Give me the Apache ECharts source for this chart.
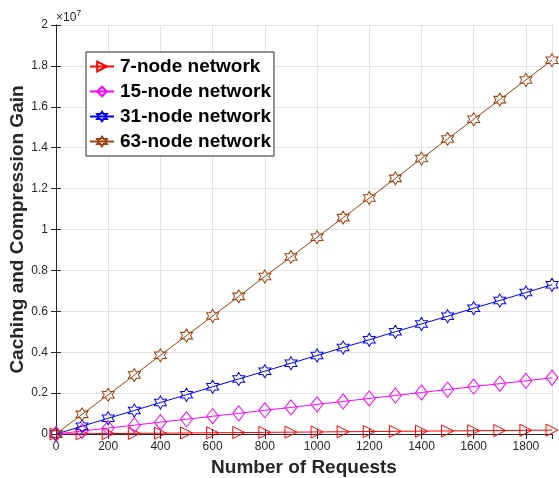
<!DOCTYPE html>
<html><head><meta charset="utf-8">
<script src="https://cdn.jsdelivr.net/npm/echarts@6/dist/echarts.min.js"></script>
<style>html,body{margin:0;padding:0;background:#fff}#c{width:559px;height:478px}</style>
</head><body><div id="c"></div>
<script>
// Number of requests
const requests = [0,100,200,300,400,500,600,700,800,900,1000,1100,1200,1300,1400,1500,1600,1700,1800,1900];
// Caching and compression gain, in units of 1e7
const gain7  = [0,0.001,0.002,0.003,0.004,0.005,0.006,0.007,0.008,0.009,0.010,0.011,0.012,0.013,0.014,0.015,0.016,0.017,0.018,0.019];
const gain15 = [0,0.0145,0.029,0.043,0.058,0.072,0.087,0.101,0.116,0.130,0.145,0.159,0.174,0.188,0.203,0.217,0.232,0.246,0.260,0.275];
const gain31 = [0,0.038,0.077,0.115,0.154,0.192,0.231,0.269,0.307,0.346,0.384,0.423,0.461,0.500,0.538,0.576,0.615,0.653,0.692,0.730];
const gain63 = [0,0.096,0.192,0.288,0.385,0.481,0.577,0.673,0.770,0.866,0.962,1.058,1.154,1.250,1.347,1.443,1.539,1.635,1.731,1.828];
const seriesNames = ['7-node network','15-node network','31-node network','63-node network'];
const yTickLabels = ['0','0.2','0.4','0.6','0.8','1','1.2','1.4','1.6','1.8','2'];

const FONT = '"Liberation Sans", Arial, sans-serif';
const AX = '#262626';
const tri = 'path://M0,0 L10,5 L0,10 Z';
const star = 'path://M0,-100 L28.87,-50 L86.6,-50 L57.7,0 L86.6,50 L28.87,50 L0,100 L-28.87,50 L-86.6,50 L-57.7,0 L-86.6,-50 L-28.87,-50 Z';
const cfg = [
  {data: gain7,  color: '#ff0000', symbol: tri, size: [12,12]},
  {data: gain15, color: '#ff00ff', symbol: 'diamond', size: [12,15]},
  {data: gain31, color: '#0000ff', symbol: star, size: [12,13]},
  {data: gain63, color: '#a0410d', symbol: star, size: [12,13]}
];
const chart = echarts.init(document.getElementById('c'), null, {renderer: 'canvas'});
const series = cfg.map((c, i) => ({
  name: seriesNames[i], type: 'line',
  data: requests.map((x, j) => [x, c.data[j]]),
  symbol: c.symbol, symbolSize: c.size,
  showAllSymbol: true,
  lineStyle: {color: c.color, width: 1},
  itemStyle: {color: 'rgba(255,255,255,0)', borderColor: c.color, borderWidth: 1},
  emphasis: {disabled: true},
  animation: false,
  z: 3 + i
}));
chart.setOption({
  animation: false,
  grid: {left: 56, right: 7, top: 25, bottom: 44, containLabel: false, outerBoundsMode: 'none'},
  legend: {
    left: 86, top: 52, orient: 'vertical',
    itemWidth: 24, itemHeight: 12, itemGap: 6,
    padding: [5, 3, 5, 3],
    borderColor: AX, borderWidth: 1, backgroundColor: '#fff',
    textStyle: {fontFamily: FONT, fontSize: 19, fontWeight: 'bold', color: '#000', padding: [0,0,0,1]},
    data: seriesNames
  },
  xAxis: [{
    type: 'value', min: 0, max: 1900, interval: 200,
    name: 'Number of Requests', nameLocation: 'middle', nameGap: 24, nameMoveOverlap: false,
    nameTextStyle: {fontFamily: FONT, fontSize: 19, fontWeight: 'bold', color: AX},
    axisLine: {show: true, lineStyle: {color: AX, width: 1}},
    axisTick: {show: true, inside: true, length: 5, lineStyle: {color: AX}},
    axisLabel: {fontFamily: FONT, fontSize: 12, color: AX, margin: 7, showMaxLabel: false,
      formatter: (v) => String(v)},
    splitLine: {show: true, lineStyle: {color: '#e3e3e3', width: 1}}
  }, {
    type: 'value', min: 0, max: 1900, interval: 200, position: 'top',
    axisLine: {show: true, lineStyle: {color: AX, width: 1}},
    axisTick: {show: true, inside: true, length: 5, lineStyle: {color: AX}},
    axisLabel: {show: false}, splitLine: {show: false}
  }],
  yAxis: [{
    type: 'value', min: 0, max: 2, interval: 0.2,
    name: 'Caching and Compression Gain', nameLocation: 'middle', nameGap: 29, nameMoveOverlap: false,
    nameTextStyle: {fontFamily: FONT, fontSize: 19, fontWeight: 'bold', color: AX},
    axisLine: {show: true, lineStyle: {color: AX, width: 1}},
    axisTick: {show: true, inside: true, length: 5, lineStyle: {color: AX}},
    axisLabel: {fontFamily: FONT, fontSize: 12, color: AX, margin: 8,
      formatter: (v) => yTickLabels[Math.round(v / 0.2)]},
    splitLine: {show: true, lineStyle: {color: '#e3e3e3', width: 1}}
  }, {
    type: 'value', min: 0, max: 2, interval: 0.2, position: 'right',
    axisLine: {show: true, lineStyle: {color: AX, width: 1}},
    axisTick: {show: true, inside: true, length: 5, lineStyle: {color: AX}},
    axisLabel: {show: false}, splitLine: {show: false}
  }],
  graphic: [{
    type: 'text', left: 56, top: 9,
    style: {
      text: '{a|×10}{b|7}',
      rich: {
        a: {fontFamily: FONT, fontSize: 12, fill: AX, verticalAlign: 'bottom'},
        b: {fontFamily: FONT, fontSize: 9, fill: AX, verticalAlign: 'top', padding: [0,0,6,0]}
      }
    }
  }],
  series: series
});
</script></body></html>
